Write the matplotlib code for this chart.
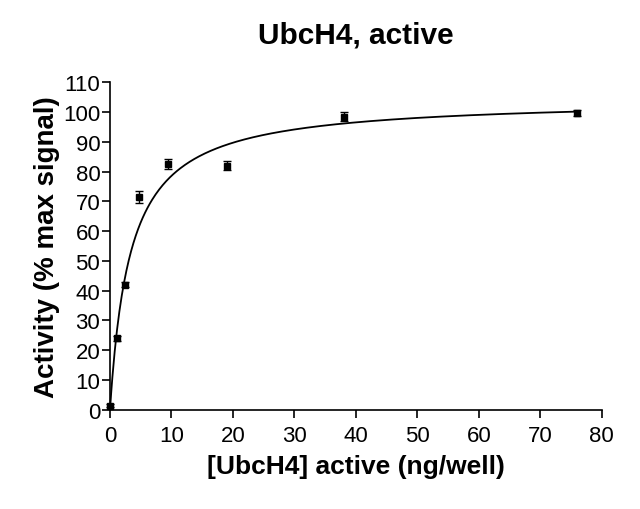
import numpy as np
import matplotlib
matplotlib.use("Agg")
import matplotlib.pyplot as plt

# Data
conc = [0, 1.1875, 2.375, 4.75, 9.5, 19, 38, 76]           # ng/well
activity = [1.3, 24.0, 42.0, 71.4, 82.5, 82.0, 98.5, 99.8]   # % max signal
err = [0.5, 0.8, 0.8, 2.0, 1.8, 1.5, 1.6, 1.0]

# One-site hyperbola fit parameters
BMAX = 104.5
KD = 3.3

xticks = [0, 10, 20, 30, 40, 50, 60, 70, 80]
yticks = [0, 10, 20, 30, 40, 50, 60, 70, 80, 90, 100, 110]

plt.rcParams['font.family'] = ['Liberation Sans', 'DejaVu Sans']

fig = plt.figure(figsize=(6.4, 5.1), dpi=100)
ax = fig.add_axes([0.1719, 0.1947, 0.9402 - 0.1719, 0.8367 - 0.1947])

xfit = np.linspace(0, max(conc), 400)
yfit = BMAX * xfit / (KD + xfit)
ax.plot(xfit, yfit, color='black', lw=1.3, clip_on=False, zorder=2)

ax.errorbar(conc, activity, yerr=err, fmt='s', color='black', ms=4.2,
            ecolor='black', elinewidth=1.0, capsize=3, capthick=1.0,
            clip_on=False, zorder=3)

ax.set_xlim(0, 80)
ax.set_ylim(0, 110)
ax.set_xticks(xticks)
ax.set_yticks(yticks)
ax.spines['top'].set_visible(False)
ax.spines['right'].set_visible(False)
for s in ('left', 'bottom'):
    ax.spines[s].set_linewidth(1.2)
ax.tick_params(axis='both', direction='out', length=6, width=1.2,
               labelsize=16)
ax.tick_params(axis='y', pad=1)
ax.tick_params(axis='x', pad=5)

ax.set_title('UbcH4, active', fontsize=21.5, fontweight='bold', pad=29)
ax.set_xlabel('[UbcH4] active (ng/well)', fontsize=19, fontweight='bold',
              labelpad=6)
ax.set_ylabel('Activity (% max signal)', fontsize=20, fontweight='bold',
              labelpad=2)

fig.savefig('out.png', dpi=100)
